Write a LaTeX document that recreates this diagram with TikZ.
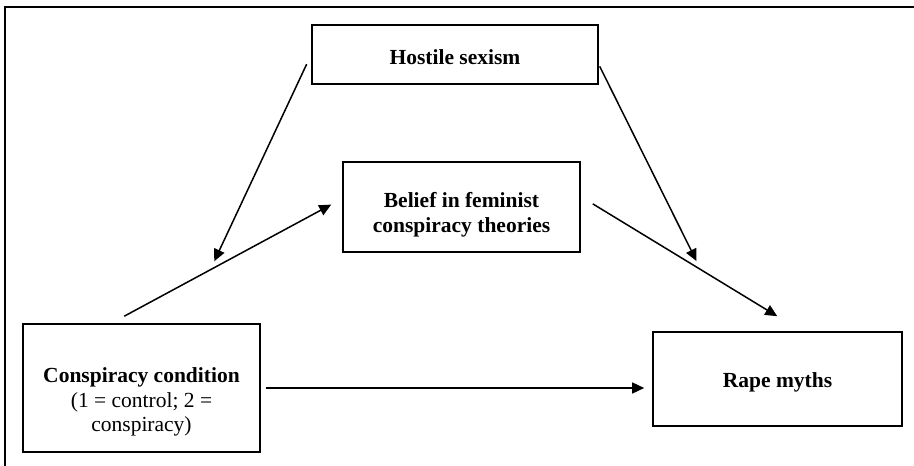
\documentclass[tikz,border=0pt]{standalone}
\usepackage{fontspec}
\setmainfont{Liberation Serif}
\usetikzlibrary{arrows.meta}
\tikzset{
    box/.style = {draw,line width=1.6pt,inner sep=0,align=center,
        font=\fontsize{21.5}{24.5}\selectfont},
    effect/.style = {line width=1.5pt,-{Triangle[length=12pt,width=11pt]}},
    frame/.style = {line width=1.8pt}
}

\begin{document}
\begin{tikzpicture}[x=1pt,y=-1pt]
        \useasboundingbox (0,0) rectangle (914,466);
        % Frame
        \draw[frame] (5,470) -- (5,7) -- (918,7);
        % Variables
        \node[box,minimum width=286pt,minimum height=59pt,text height=21pt]
            (hostile) at (455,54.5) {\textbf{Hostile sexism}};
        \node[box,minimum width=237pt,minimum height=90pt]
            (belief) at (461.5,207) {\rule{0pt}{31pt}\textbf{Belief in feminist}\\\textbf{conspiracy theories}};
        \node[box,minimum width=237pt,minimum height=128pt]
            (cond) at (141.5,388) {\rule{0pt}{43pt}\textbf{Conspiracy condition}\\(1 = control; 2 =\\conspiracy)};
        \node[box,minimum width=249pt,minimum height=94pt,text height=21pt]
            (rape) at (777.5,379) {\textbf{Rape myths}};
        % Paths
        \foreach \src/\dest/\a/\b in {hostile.west/cond.56/10.7pt/68.4pt,
                hostile.356/rape.134/2pt/78.3pt,
                cond.115.5/belief.176/14.8pt/12.5pt,
                belief.5/rape.63/14pt/28.8pt,
                cond.east/cond.east -| rape.west/5pt/8pt}
            \draw[effect,shorten <=\a,shorten >=\b] (\src) -- (\dest);
    \end{tikzpicture}
\end{document}
